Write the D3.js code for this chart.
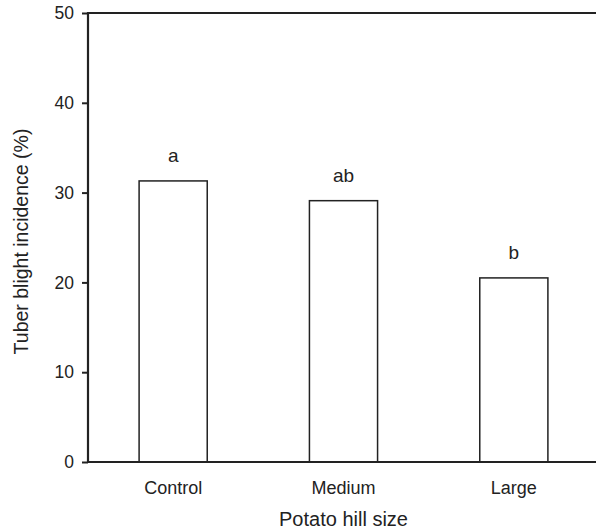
<!DOCTYPE html>
<html>
<head>
<meta charset="utf-8">
<script src="https://cdn.jsdelivr.net/npm/d3@7"></script>
<style>
  body { margin: 0; background: #fff; }
  text { font-family: "Liberation Sans", Arial, sans-serif; fill: #222; }
</style>
</head>
<body>
<svg id="chart" width="596" height="530"></svg>
<script>
// Data
const categories = ["Control", "Medium", "Large"];
const values = [31.3, 29.1, 20.5];
const letters = ["a", "ab", "b"];
const yTicks = [0, 10, 20, 30, 40, 50];

const margin = {left: 88, top: 13, right: -3, bottom: 68};
const width = 596, height = 530;

const svg = d3.select("#chart");

const x = d3.scaleBand()
    .domain(categories)
    .range([margin.left, width - margin.right])
    .paddingInner(0.6)
    .paddingOuter(0.3);

const y = d3.scaleLinear()
    .domain([0, 50])
    .range([height - margin.bottom, margin.top]);

// bars
svg.selectAll("rect.bar")
    .data(values)
    .enter()
    .append("rect")
    .attr("class", "bar")
    .attr("x", (d, i) => x(categories[i]))
    .attr("y", d => y(d))
    .attr("width", x.bandwidth())
    .attr("height", d => y(0) - y(d))
    .attr("fill", "#fff")
    .attr("stroke", "#222")
    .attr("stroke-width", 1.5);

// letters above bars
svg.selectAll("text.letter")
    .data(values)
    .enter()
    .append("text")
    .attr("class", "letter")
    .attr("x", (d, i) => x(categories[i]) + x.bandwidth() / 2)
    .attr("y", d => y(d) - 19)
    .attr("text-anchor", "middle")
    .style("font-size", "19px")
    .text((d, i) => letters[i]);

// y axis
const yAxis = svg.append("g")
    .attr("transform", `translate(${margin.left},0)`)
    .call(d3.axisLeft(y).tickValues(yTicks).tickSize(6).tickPadding(8));
yAxis.select(".domain").remove();
yAxis.selectAll("line").attr("stroke", "#222").attr("stroke-width", 2);
yAxis.selectAll("text").style("font-size", "17.5px").attr("fill", "#222");

// frame lines: left, top, bottom
svg.append("line")
    .attr("x1", margin.left).attr("x2", margin.left)
    .attr("y1", y(50) - 1).attr("y2", y(0) + 1)
    .attr("stroke", "#222").attr("stroke-width", 2.2);
svg.append("line")
    .attr("x1", margin.left - 1).attr("x2", width)
    .attr("y1", y(50)).attr("y2", y(50))
    .attr("stroke", "#222").attr("stroke-width", 2.2);
svg.append("line")
    .attr("x1", margin.left - 1).attr("x2", width)
    .attr("y1", y(0)).attr("y2", y(0))
    .attr("stroke", "#222").attr("stroke-width", 2.2);

// x labels
svg.selectAll("text.cat")
    .data(categories)
    .enter()
    .append("text")
    .attr("class", "cat")
    .attr("x", d => x(d) + x.bandwidth() / 2)
    .attr("y", y(0) + 32)
    .attr("text-anchor", "middle")
    .style("font-size", "18px")
    .text(d => d);

// axis titles
svg.append("text")
    .attr("x", x("Medium") + x.bandwidth() / 2)
    .attr("y", 526)
    .attr("text-anchor", "middle")
    .style("font-size", "20px")
    .text("Potato hill size");

svg.append("text")
    .attr("transform", `translate(28, ${(y(0) + y(50)) / 2 + 4}) rotate(-90)`)
    .attr("text-anchor", "middle")
    .style("font-size", "19.5px")
    .text("Tuber blight incidence (%)");
</script>
</body>
</html>
